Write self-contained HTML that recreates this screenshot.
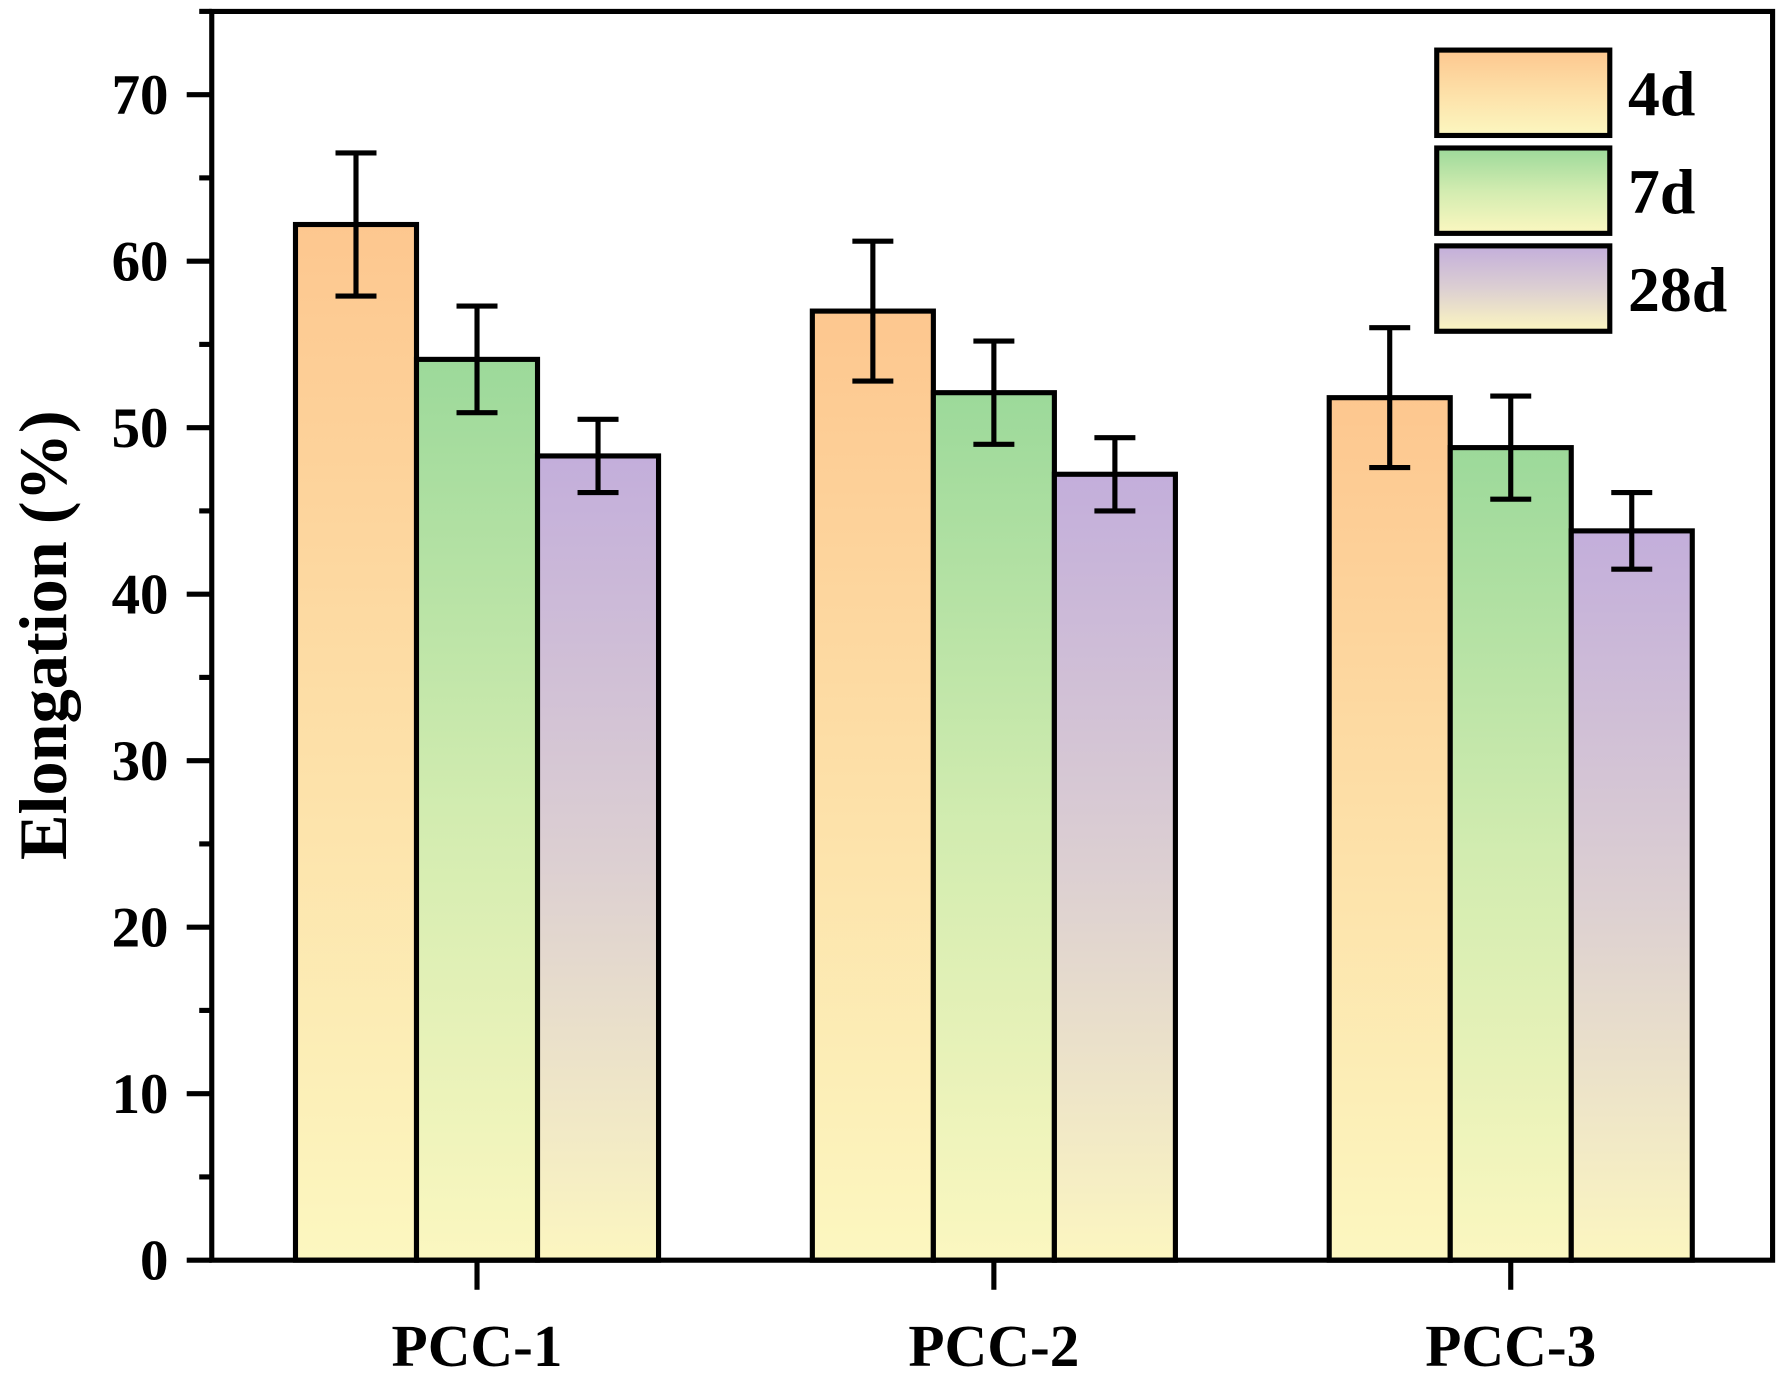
<!DOCTYPE html>
<html><head><meta charset="utf-8"><style>
html,body{margin:0;padding:0;background:#fff;}
svg{display:block;}
</style></head><body>
<svg id="chart" width="1776" height="1374" viewBox="0 0 1560 1207" preserveAspectRatio="none" xmlns="http://www.w3.org/2000/svg">
<defs>
<linearGradient id="g0" x1="0" y1="0" x2="0" y2="1"><stop offset="0" stop-color="#fdc78f"/><stop offset="0.5" stop-color="#fde0a8"/><stop offset="1" stop-color="#fcf7c0"/></linearGradient>
<linearGradient id="g1" x1="0" y1="0" x2="0" y2="1"><stop offset="0" stop-color="#9cd99a"/><stop offset="0.5" stop-color="#d2ecb0"/><stop offset="1" stop-color="#fbf7c0"/></linearGradient>
<linearGradient id="g2" x1="0" y1="0" x2="0" y2="1"><stop offset="0" stop-color="#c3aedb"/><stop offset="0.5" stop-color="#dccfd2"/><stop offset="1" stop-color="#fcf6c0"/></linearGradient>
</defs>
<g id="plot" font-family="'Liberation Serif', 'Times New Roman', serif" font-weight="bold"></g>
</svg>
<script>
const categories = ["PCC-1","PCC-2","PCC-3"];
const seriesNames = ["4d","7d","28d"];
const values4d = [62.2, 57.0, 51.8];
const values7d = [54.1, 52.1, 48.8];
const values28d = [48.3, 47.2, 43.8];
const err4d = [4.3, 4.2, 4.2];
const err7d = [3.2, 3.1, 3.1];
const err28d = [2.2, 2.2, 2.3];
const yTicks = [0,10,20,30,40,50,60,70];

const NS = "http://www.w3.org/2000/svg";
const g = document.getElementById('plot');
const X0 = 186, X1 = 1557, YB = 1107, YT = 10;
const yMax = 75;
function y(v){ return YB - v * (YB - YT) / yMax; }
const groupCenters0 = 419, groupStep = 454, barW = 106.3;
function xCenter(i){ return groupCenters0 + i * groupStep; }
function el(tag, attrs, txt){
  const e = document.createElementNS(NS, tag);
  for (const k in attrs) e.setAttribute(k, attrs[k]);
  if (txt !== undefined) e.textContent = txt;
  g.appendChild(e);
  return e;
}
const allVals = [values4d, values7d, values28d];
const allErr = [err4d, err7d, err28d];

categories.forEach((c, i) => {
  for (let s = 0; s < 3; s++) {
    const v = allVals[s][i];
    const bx = xCenter(i) + (s - 1.5) * barW;
    const r = el('rect', {x: bx, y: y(v), width: barW, height: YB - y(v), fill: 'url(#g' + s + ')', stroke: '#000', 'stroke-width': 4.5});
    
    
  }
});
categories.forEach((c, i) => {
  for (let s = 0; s < 3; s++) {
    const v = allVals[s][i], e = allErr[s][i];
    const cx = xCenter(i) + (s - 1) * barW;
    const p = el('path', {d: 'M' + cx + ' ' + y(v + e) + 'V' + y(v - e) + 'M' + (cx - 18) + ' ' + y(v + e) + 'H' + (cx + 18) + 'M' + (cx - 18) + ' ' + y(v - e) + 'H' + (cx + 18), stroke: '#000', 'stroke-width': 4.5, fill: 'none'});
    
    
  }
});
const fr = el('path', {d: 'M' + X0 + ' ' + YT + 'H' + X1 + 'V' + YB + 'H' + X0 + 'Z', fill: 'none', stroke: '#000', 'stroke-width': 4.5});


for (let v = 0; v <= 75; v += 5) {
  const major = v % 10 === 0;
  const t = el('line', {x1: X0 - (major ? 22 : 11), x2: X0, y1: y(v), y2: y(v), stroke: '#000', 'stroke-width': 4.5});
  
  
}
yTicks.forEach(v => {
  const t = el('text', {x: 148, y: y(v) + 17, 'text-anchor': 'end', 'font-size': 50}, String(v));
  
  
});
categories.forEach((c, i) => {
  const t = el('line', {x1: xCenter(i), x2: xCenter(i), y1: YB, y2: YB + 26, stroke: '#000', 'stroke-width': 4.5});
  
  
  const l = el('text', {x: xCenter(i), y: 1200, 'text-anchor': 'middle', 'font-size': 52}, c);
  
  
});
const yt = el('text', {x: 0, y: 0, 'text-anchor': 'middle', 'font-size': 60, transform: 'translate(58 558) rotate(-90)'}, 'Elongation (%)');


seriesNames.forEach((n, s) => {
  const ly = 44 + s * 86;
  const r = el('rect', {x: 1262, y: ly, width: 152, height: 75, fill: 'url(#g' + s + ')', stroke: '#000', 'stroke-width': 4.5});
  
  
  const t = el('text', {x: 1430, y: ly + 57, 'font-size': 56}, n);
  
  
});
</script>
</body></html>
